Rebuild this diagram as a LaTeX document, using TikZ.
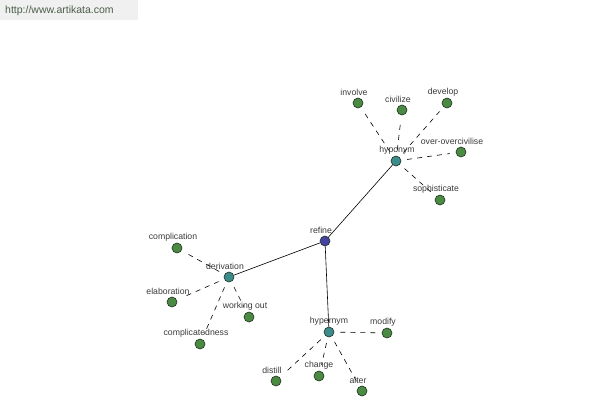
\documentclass[tikz,border=0pt]{standalone}
\usepackage{fontspec}
\setmainfont{Liberation Sans}
\usepackage{tikz}
\usetikzlibrary{backgrounds}

\definecolor{rootcol}{HTML}{4444A0}
\definecolor{hubcol}{HTML}{3C8C8C}
\definecolor{leafcol}{HTML}{4B8A42}
\definecolor{rimcol}{HTML}{1E2E1E}
\definecolor{txtcol}{HTML}{3A3A3A}
\definecolor{sitecol}{HTML}{4A5E48}
\definecolor{headcol}{HTML}{F0F0F0}

\tikzset{
  dot/.style={circle,draw=rimcol,line width=0.6pt,inner sep=0pt,minimum size=10pt},
  rootdot/.style={dot,fill=rootcol},
  hubdot/.style={dot,fill=hubcol},
  leafdot/.style={dot,fill=leafcol},
  lbl/.style={font=\fontsize{8.7}{9}\selectfont,text=txtcol,inner sep=0.5pt,label distance=1pt,xshift=-4pt},
  link/.style={draw=black,line width=0.6pt},
  syn/.style={draw=black,line width=0.6pt,dash pattern=on 5pt off 5pt,shorten <=6pt,shorten >=6pt}
}

\begin{document}
\begin{tikzpicture}[x=1pt,y=-1pt]
\useasboundingbox (0,0) rectangle (600,400);
% Header
\fill[headcol] (0,0) rectangle (138,20);
\node[anchor=west,inner sep=0pt,text=sitecol,font=\fontsize{10.5}{11}\selectfont] (site) at (5,11) {http://www.artikata.com};
% Root
\node[rootdot,label={[lbl]above:refine}] (refine) at (325,241) {};
% Hubs
\node[hubdot,label={[lbl,xshift=5pt]above:hyponym}] (hypo) at (396,161) {};
\node[hubdot,label={[lbl]above:derivation}] (deriv) at (229,277) {};
\node[hubdot,label={[lbl,xshift=4pt]above:hypernym}] (hyper) at (329,332) {};
% Leaves of hyponym
\node[leafdot,label={[lbl]above:involve}] (involve) at (358,103) {};
\node[leafdot,label={[lbl]above:civilize}] (civilize) at (402,110) {};
\node[leafdot,label={[lbl]above:develop}] (develop) at (447,103) {};
\node[leafdot,label={[lbl,xshift=-5pt]above:over-overcivilise}] (overciv) at (461,152) {};
\node[leafdot,label={[lbl]above:sophisticate}] (sophist) at (440,200) {};
% Leaves of derivation
\node[leafdot,label={[lbl]above:complication}] (complic) at (177,248) {};
\node[leafdot,label={[lbl]above:elaboration}] (elabor) at (172,302) {};
\node[leafdot,label={[lbl]above:working out}] (workout) at (249,317) {};
\node[leafdot,label={[lbl]above:complicatedness}] (complness) at (200,344) {};
% Leaves of hypernym
\node[leafdot,label={[lbl]above:modify}] (modify) at (387,333) {};
\node[leafdot,label={[lbl]above:distill}] (distill) at (276,381) {};
\node[leafdot,label={[lbl,xshift=4pt]above:change}] (change) at (319,376) {};
\node[leafdot,label={[lbl]above:alter}] (alter) at (362,391) {};
\begin{scope}[on background layer]
% Main links
\draw[link] (refine) -- (hypo);
\draw[link] (refine) -- (deriv);
\draw[link] (refine) -- (hyper);
% Dashed links
\foreach \leaf in {involve,civilize,develop,overciv,sophist}
  \draw[syn] (hypo) -- (\leaf);
\foreach \leaf in {complic,elabor,workout,complness}
  \draw[syn] (deriv) -- (\leaf);
\foreach \leaf in {modify,distill,change,alter}
  \draw[syn] (hyper) -- (\leaf);
\end{scope}
\end{tikzpicture}
\end{document}
